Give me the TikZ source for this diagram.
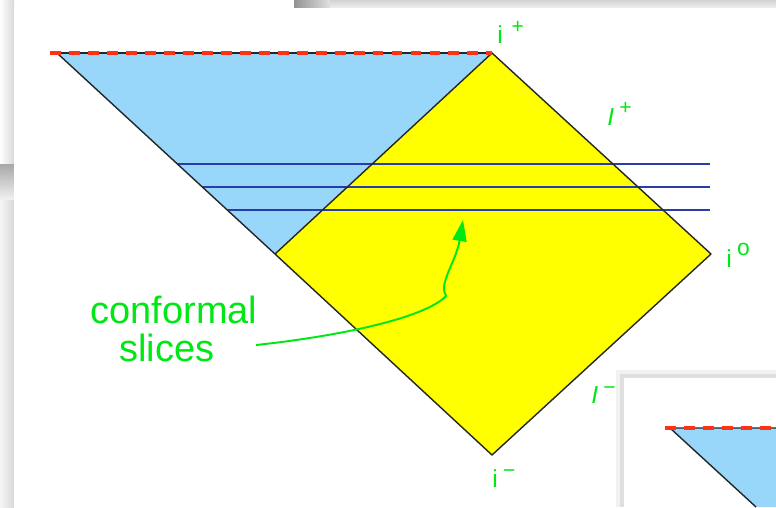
\documentclass[tikz,border=0pt]{standalone}
\usepackage{fontspec}
\setmainfont{Liberation Sans}
\usetikzlibrary{arrows.meta}

\definecolor{lgreen}{RGB}{0,232,20}
\definecolor{skyfill}{RGB}{152,214,250}
\definecolor{yelfill}{RGB}{255,255,0}
\definecolor{sliceblue}{RGB}{40,60,170}
\definecolor{dashred}{RGB}{255,50,20}

\tikzset{
	edge/.style={draw=black!85,line width=0.8pt,line join=round},
	slice/.style={draw=sliceblue,line width=0.85pt},
	reddash/.style={draw=dashred,line width=2.6pt,dash pattern=on 6.2pt off 4.6pt},
	lbl/.style={text=lgreen,font=\fontsize{14}{14}\selectfont,inner sep=0pt},
	big/.style={text=lgreen,font=\fontsize{21.6}{21.6}\selectfont,inner sep=0pt,anchor=base},
	arrowline/.style={draw=lgreen,line width=1.1pt,-{Triangle[length=12pt,width=8pt]}}
}

\newcommand{\up}[2]{\raisebox{#1}{\fontsize{12}{12}\selectfont #2}}

\begin{document}
\begin{tikzpicture}[x=0.02cm,y=-0.02cm]
	\useasboundingbox (0,0) rectangle (776,507);

	% Screen background
	\begin{scope}
		\fill[gray!18] (0,0) rectangle (776,507);
		\shade[top color=gray!35,bottom color=gray!12] (294,0) rectangle (776,8);
		\shade[left color=gray!85,right color=gray!25] (294,0) rectangle (330,8);
		\shade[top color=gray!70,bottom color=gray!10] (0,163) rectangle (14,200);
		\shade[left color=gray!8,right color=gray!30] (0,200) rectangle (14,507);
		\fill[white] (0,0) rectangle (294,163);
		\shade[left color=white,right color=gray!30] (0,0) rectangle (14,163);
		\fill[white] (14,8) rectangle (776,507);
	\end{scope}

	% Corners of the diagram
	\coordinate (past) at (57,53);
	\coordinate (iplus) at (492,53);
	\coordinate (izero) at (711,254);
	\coordinate (iminus) at (492,455);
	\coordinate (mid) at (275,254);

	% Blue region and yellow diamond
	\fill[skyfill] (past) -- (iplus) -- (mid) -- cycle;
	\fill[yelfill] (iplus) -- (izero) -- (iminus) -- (mid) -- cycle;

	% Conformal slices
	\foreach \y/\x in {164/177,187/202,210/227} {
		\draw[slice] (\x,\y) -- (710,\y);
	}

	\draw[edge] (past) -- (mid) -- (iminus) -- (izero) -- (iplus) -- (mid);
	\draw[edge] (past) -- (iplus);
	\draw[reddash] (50,53) -- (iplus);

	% Labels
	\node[lbl,anchor=base west] (lip) at (497,43) {i\hspace{5pt}\up{5.4pt}{+}};
	\node[lbl,anchor=base west] (lscrip) at (607,125) {\textit{I}\hspace{3pt}\up{6pt}{+}};
	\node[lbl,anchor=base west] (liz) at (726,267) {i\hspace{3pt}\raisebox{6.8pt}{\fontsize{13}{13}\selectfont o}};
	\node[lbl,anchor=base west] (lscrim) at (591,403) {\textit{I}\hspace{3pt}\up{4.6pt}{\textminus}};
	\node[lbl,anchor=base west] (lim) at (492,487) {i\hspace{3pt}\up{5.6pt}{\textminus}};

	\node[big] (conf) at (174,323) {conformal};
	\node[big] (slices) at (167,361) {slices};

	% Pointer to the slices
	\coordinate (arrowstart) at (256,345);
	\coordinate (kink) at (446,296);
	\coordinate (tip) at (463,220);
	\draw[arrowline] (arrowstart) .. controls (340,336) and (425,318) .. (kink)
		.. controls (438,284) and (456,262) .. (tip);

	% Inset window
	\begin{scope}
		\fill[gray!10] (616,370) rectangle (776,507);
		\fill[gray!25] (620,374) rectangle (776,507);
		\fill[white] (624,378) rectangle (776,507);
		\coordinate (ipast) at (670,428);
		\coordinate (iend) at (756,507);
		\fill[skyfill] (ipast) -- (776,428) -- (776,507) -- (iend) -- cycle;
		\draw[edge] (iend) -- (ipast) -- (776,428);
		\draw[reddash] (665,428) -- (776,428);
	\end{scope}
\end{tikzpicture}
\end{document}
